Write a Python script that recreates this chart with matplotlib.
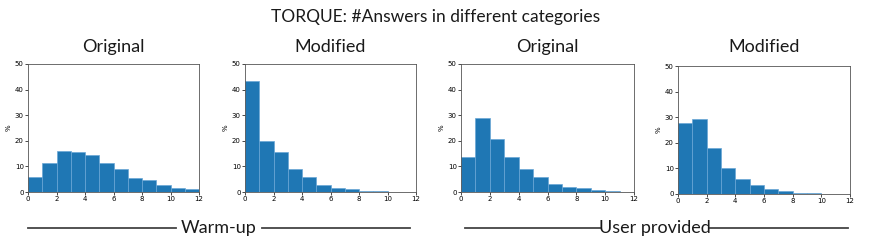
import numpy as np
import matplotlib
matplotlib.use('Agg')
import matplotlib.pyplot as plt
from matplotlib.lines import Line2D

plt.rcParams['font.family'] = ['DejaVu Sans']

# bin edges shared by all panels (number of answers)
bins = np.arange(0, 12)
# percentages per bin
warmup_orig = [5.7, 11.2, 15.9, 15.5, 14.4, 11.2, 8.9, 5.4, 4.6, 2.7, 1.6, 1.2]
warmup_mod = [43.5, 20.0, 15.5, 8.8, 5.7, 2.8, 1.6, 1.0, 0.4, 0.3, 0.1, 0.0]
user_orig = [13.5, 29.1, 20.6, 13.7, 8.8, 5.7, 3.1, 1.9, 1.6, 0.8, 0.4, 0.1]
user_mod = [27.9, 29.2, 18.0, 10.1, 5.7, 3.5, 2.0, 1.2, 0.4, 0.3, 0.1, 0.05]
panel_titles = ['Original', 'Modified', 'Original', 'Modified']
groups = ['Warm-up', 'User provided']

# headings in a lighter-looking face than DejaVu
head = dict(family=['Lato', 'DejaVu Sans'], weight='normal', color='#1a1a1a')

W, H = 872, 247
fig = plt.figure(figsize=(W / 100, H / 100), dpi=100)

# axes boxes in pixels (left, top, right, bottom)
boxes = [(28, 64, 199, 192), (245, 64, 416, 192), (461, 64, 634, 192), (678, 66, 850, 194)]
data = [warmup_orig, warmup_mod, user_orig, user_mod]

for (l, t, r, b), vals, title in zip(boxes, data, panel_titles):
    ax = fig.add_axes([l / W, 1 - b / H, (r - l) / W, (b - t) / H])
    ax.bar(bins, vals, width=1, align='edge', color='#1f77b4', edgecolor='#6aa6d6', linewidth=0.5)
    ax.set_xlim(0, 12)
    ax.set_ylim(0, 50)
    ax.set_xticks(range(0, 13, 2))
    ax.set_yticks(range(0, 51, 10))
    ax.tick_params(labelsize=5, length=2, width=0.5, pad=1)
    ax.set_ylabel('%', fontsize=5, labelpad=2)
    for s in ax.spines.values():
        s.set_linewidth(0.6)
        s.set_color('#555555')
    # titles sit on one line across the row
    fig.text((l + r) / 2 / W, 1 - 47 / H, title, ha='center', va='center', fontsize=13, **head)

fig.text(0.5, 1 - 17 / H, 'TORQUE: #Answers in different categories', ha='center', va='center',
         fontsize=12.5, **head)

# group labels with lines either side
line_y = 1 - 228 / H
for (x0, x1, x2, x3), name in zip([(28, 176, 262, 410), (465, 600, 710, 848)], groups):
    fig.add_artist(Line2D([x0 / W, x1 / W], [line_y, line_y], color='#444444', lw=1.3))
    fig.add_artist(Line2D([x2 / W, x3 / W], [line_y, line_y], color='#444444', lw=1.3))
    fig.text((x1 + x2) / 2 / W, line_y, name, ha='center', va='center', fontsize=13, **head)

fig.savefig('out.png', dpi=100)
